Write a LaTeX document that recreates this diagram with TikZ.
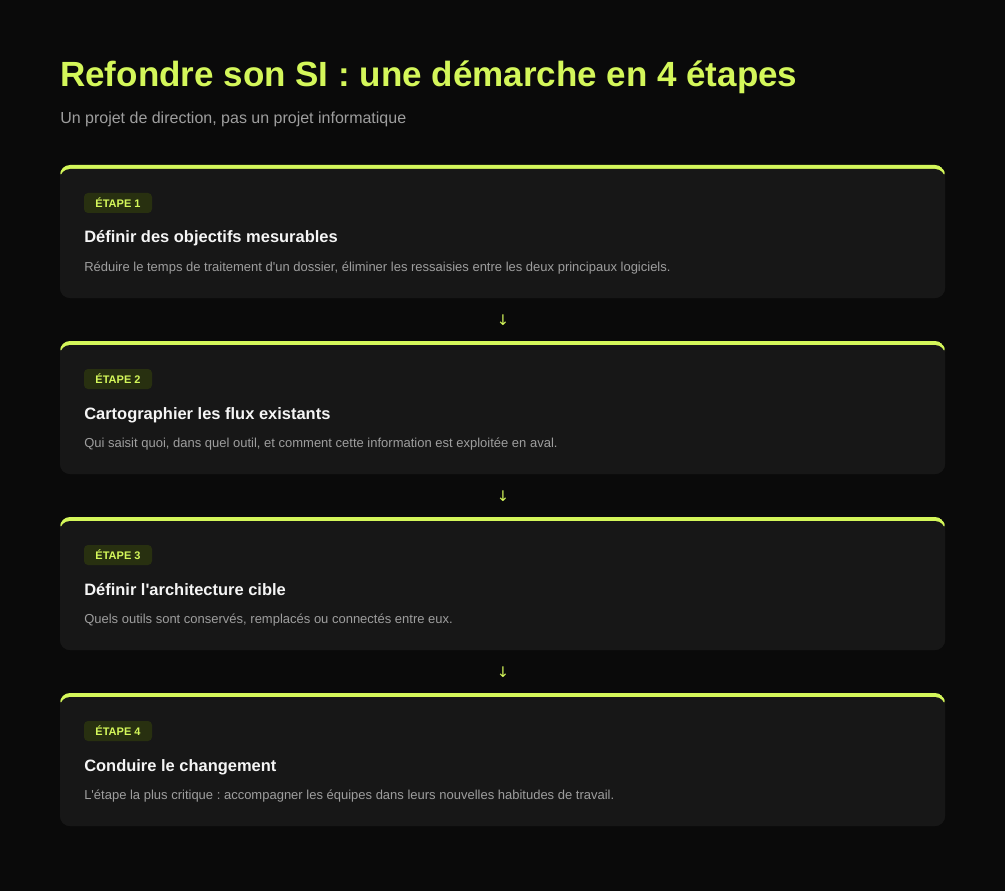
\documentclass[tikz,border=0pt]{standalone}
\usepackage{fontspec}
\setmainfont{Liberation Sans}
\newfontfamily\arrowfont{DejaVu Sans}
\usepackage{tikz}
\usetikzlibrary{positioning}
\frenchspacing

\definecolor{bgdark}{RGB}{10,10,10}
\definecolor{cardgray}{RGB}{23,23,23}
\definecolor{lime}{RGB}{212,247,90}
\definecolor{badgefill}{RGB}{40,48,16}
\definecolor{headwhite}{RGB}{245,245,245}
\definecolor{descgray}{RGB}{158,158,158}

\tikzset{
  card/.style={rectangle,rounded corners=7.5pt,fill=cardgray,minimum width=663.75pt,minimum height=99.75pt,inner sep=0pt,
    path picture={
      \fill[lime] (path picture bounding box.north west) rectangle ([yshift=-11pt]path picture bounding box.north east);
      \fill[cardgray,rounded corners=7.5pt] ([yshift=-3pt]path picture bounding box.north west) rectangle ([yshift=-20pt]path picture bounding box.south east);
    }},
  badge/.style={rectangle,rounded corners=3pt,fill=badgefill,minimum width=51pt,minimum height=15pt,inner sep=0pt,text=lime,font=\bfseries\fontsize{8.25pt}{10pt}\selectfont},
  head/.style={anchor=base west,inner sep=0pt,text=headwhite,font=\bfseries\fontsize{12.35pt}{15pt}\selectfont},
  desc/.style={anchor=base west,inner sep=0pt,text=descgray,font=\fontsize{9.75pt}{12pt}\selectfont},
  down/.style={inner sep=0pt,text=lime,font=\arrowfont\fontsize{11pt}{13pt}\selectfont}
}

\begin{document}
\begin{tikzpicture}[x=0.75pt,y=-0.75pt]
  \fill[bgdark] (0,0) rectangle (1005,891);
  \useasboundingbox (0,0) rectangle (1005,891);

  % title and subtitle
  \node[anchor=base west,inner sep=0pt,text=lime,font=\bfseries\fontsize{26.25pt}{30pt}\selectfont] (title) at (60,87) {Refondre son SI : une démarche en 4 étapes};
  \node[anchor=base west,inner sep=0pt,text=descgray,font=\fontsize{12pt}{14pt}\selectfont] (subtitle) at (60,124) {Un projet de direction, pas un projet informatique};

  % step 1
  \node[card] (step1) at (502.5,231.5) {};
  \node[badge] (badge1) at (118,203) {ÉTAPE 1};
  \node[head] (head1) at (84,243) {Définir des objectifs mesurables};
  \node[desc] (desc1) at (84,271) {Réduire le temps de traitement d\textquotesingle un dossier, éliminer les ressaisies entre les deux principaux logiciels.};

  % step 2
  \node[card] (step2) at (502.5,407.5) {};
  \node[badge] (badge2) at (118,379) {ÉTAPE 2};
  \node[head] (head2) at (84,419) {Cartographier les flux existants};
  \node[desc] (desc2) at (84,447) {Qui saisit quoi, dans quel outil, et comment cette information est exploitée en aval.};

  % step 3
  \node[card] (step3) at (502.5,583.5) {};
  \node[badge] (badge3) at (118,555) {ÉTAPE 3};
  \node[head] (head3) at (84,595) {Définir l\textquotesingle architecture cible};
  \node[desc] (desc3) at (84,623) {Quels outils sont conservés, remplacés ou connectés entre eux.};

  % step 4
  \node[card] (step4) at (502.5,759.5) {};
  \node[badge] (badge4) at (118,731) {ÉTAPE 4};
  \node[head] (head4) at (84,771) {Conduire le changement};
  \node[desc] (desc4) at (84,799) {L\textquotesingle étape la plus critique : accompagner les équipes dans leurs nouvelles habitudes de travail.};

  % arrows between steps
  \node[down] (down1) at (503,320) {↓};
  \node[down] (down2) at (503,496) {↓};
  \node[down] (down3) at (503,672) {↓};
\end{tikzpicture}
\end{document}
